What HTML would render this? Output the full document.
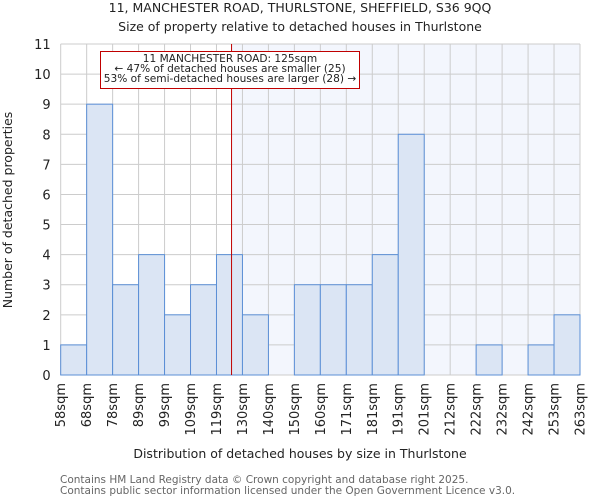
<!DOCTYPE html>
<html><head><meta charset="utf-8"><style>
body{margin:0;background:#fff;font-family:"DejaVu Sans","Liberation Sans",sans-serif}
</style></head><body>
<svg width="600" height="500" xmlns="http://www.w3.org/2000/svg" font-family="DejaVu Sans, Liberation Sans, sans-serif">
<text x="300" y="12" text-anchor="middle" font-size="12.5" fill="#222">11, MANCHESTER ROAD, THURLSTONE, SHEFFIELD, S36 9QQ</text>
<text x="300" y="31" text-anchor="middle" font-size="12.5" fill="#222">Size of property relative to detached houses in Thurlstone</text>
<g id="plot"></g>
<text x="300" y="458" text-anchor="middle" font-size="12.5" fill="#222">Distribution of detached houses by size in Thurlstone</text>
<text x="12" y="210" text-anchor="middle" font-size="12.5" fill="#222" transform="rotate(-90 12 210)">Number of detached properties</text>
<text x="60" y="483" font-size="10.5" fill="#666">Contains HM Land Registry data © Crown copyright and database right 2025.</text>
<text x="60" y="494" font-size="10.5" fill="#666">Contains public sector information licensed under the Open Government Licence v3.0.</text>
</svg>
<script>
const categories=["58sqm","68sqm","78sqm","89sqm","99sqm","109sqm","119sqm","130sqm","140sqm","150sqm","160sqm","171sqm","181sqm","191sqm","201sqm","212sqm","222sqm","232sqm","242sqm","253sqm","263sqm"];
const counts=[1,9,3,4,2,3,4,2,0,3,3,3,4,8,0,0,1,0,1,2];
const yTicks=[0,1,2,3,4,5,6,7,8,9,10,11];
const markerBin=6.58;
const NS="http://www.w3.org/2000/svg";
const L=60.7,R=580,T=44,B=375,yMax=11;
const bw=(R-L)/counts.length;
const x=i=>L+i*bw;
const y=v=>B-(v/yMax)*(B-T);
const g=document.getElementById('plot');
function mk(t,a){const e=document.createElementNS(NS,t);for(const k in a)e.setAttribute(k,a[k]);g.appendChild(e);return e;}
const mx=x(markerBin);
let e=mk('rect',{x:mx,y:T,width:R-mx,height:B-T,fill:'#f3f6fd'});


for(let i=0;i<=counts.length;i++){e=mk('line',{x1:x(i),x2:x(i),y1:T,y2:B,stroke:'#cccccc','stroke-width':1});

}
yTicks.forEach(v=>{e=mk('line',{x1:L,x2:R,y1:y(v),y2:y(v),stroke:'#cccccc','stroke-width':1});


e=mk('text',{x:L-10,y:y(v)+5,'text-anchor':'end','font-size':13,fill:'#222'});e.textContent=v;

});
counts.forEach((c,i)=>{if(c<=0)return;e=mk('rect',{x:x(i),y:y(c),width:bw,height:B-y(c),fill:'#dbe5f4',stroke:'#5b8fd6','stroke-width':1});

});
categories.forEach((c,i)=>{const tx=x(i)+4.5,ty=383;e=mk('text',{x:tx,y:ty,'text-anchor':'end','font-size':13,fill:'#222',transform:`rotate(-90 ${tx} ${ty})`});e.textContent=c;

});
e=mk('line',{x1:mx,x2:mx,y1:T,y2:B,stroke:'#c00000','stroke-width':1});


e=mk('rect',{x:100.5,y:51.5,width:259,height:37,fill:'#fff',stroke:'#c00000','stroke-width':1});


["11 MANCHESTER ROAD: 125sqm","← 47% of detached houses are smaller (25)","53% of semi-detached houses are larger (28) →"].forEach((t,k)=>{e=mk('text',{x:230,y:62+k*10,'text-anchor':'middle','font-size':10.6,fill:'#222'});e.textContent=t;

});
</script>
</body></html>
